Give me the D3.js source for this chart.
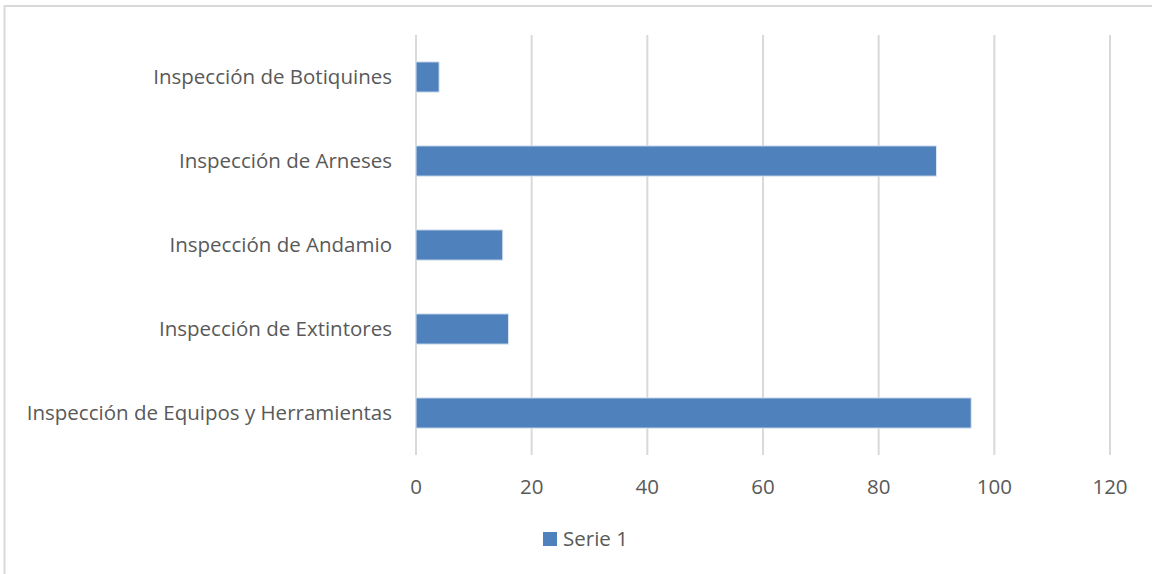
<!DOCTYPE html>
<head>
    <meta charset="utf-8" />
    <title>Inspecciones</title>
</head>
<style>
    body {
        margin: 0;
        background-color: #FFFFFF;
    }

    text {
        font-family: "Open Sans", Lato, sans-serif;
        fill: #595959;
    }

    .bar {
        fill: #4F81BD;
        stroke: #DCE6F2;
        stroke-width: 1px;
    }

    .grid line {
        stroke: #D9D9D9;
        stroke-width: 2px;
    }
</style>
<body>
    <svg id="chart" width="1152" height="574"></svg>
    <script src="https://d3js.org/d3.v7.min.js"></script>
    <script>
        // data, top to bottom as in the chart
        var categories = [
            "Inspección de Botiquines",
            "Inspección de Arneses",
            "Inspección de Andamio",
            "Inspección de Extintores",
            "Inspección de Equipos y Herramientas"
        ];
        var serie1 = [4, 90, 15, 16, 96];
        var xTicks = [0, 20, 40, 60, 80, 100, 120];
        var seriesName = "Serie 1";

        var svg = d3.select("#chart");

        // outer frame of the chart area
        svg.append("rect")
            .attr("x", 4.5)
            .attr("y", 6)
            .attr("width", 1160)
            .attr("height", 580)
            .attr("fill", "none")
            .attr("stroke", "#D9D9D9")
            .attr("stroke-width", 2);

        var margin = { top: 35, left: 416 };
        var width = 1110 - 416,
            height = 455 - 35;

        var g = svg.append("g")
            .attr("transform", "translate(" + margin.left + "," + margin.top + ")");

        var x = d3.scaleLinear().domain([0, 120]).range([0, width]);
        var y = d3.scaleBand().domain(categories).range([0, height])
            .paddingInner(0.64)
            .paddingOuter(0.32);

        // vertical gridlines
        g.append("g")
            .attr("class", "grid")
            .selectAll("line")
            .data(xTicks)
            .enter().append("line")
            .attr("x1", function(d) { return x(d); })
            .attr("x2", function(d) { return x(d); })
            .attr("y1", 0)
            .attr("y2", height);

        // x tick labels
        g.selectAll(".xlabel")
            .data(xTicks)
            .enter().append("text")
            .attr("class", "xlabel")
            .attr("x", function(d) { return x(d); })
            .attr("y", height + 39)
            .attr("text-anchor", "middle")
            .attr("font-size", "20.5px")
            .text(function(d) { return d; });

        // category labels
        g.selectAll(".ylabel")
            .data(categories)
            .enter().append("text")
            .attr("class", "ylabel")
            .attr("x", -24)
            .attr("y", function(d) { return y(d) + y.bandwidth() / 2; })
            .attr("dy", "0.35em")
            .attr("text-anchor", "end")
            .attr("font-size", "20.5px")
            .text(function(d) { return d; });

        // bars
        g.selectAll(".bar")
            .data(serie1)
            .enter().append("rect")
            .attr("class", "bar")
            .attr("x", x(0))
            .attr("y", function(d, i) { return y(categories[i]); })
            .attr("height", y.bandwidth())
            .attr("width", function(d) { return x(d) - x(0); });

        // legend
        var legend = svg.append("g").attr("transform", "translate(543,532)");
        legend.append("rect")
            .attr("width", 14)
            .attr("height", 14)
            .attr("fill", "#4F81BD");
        legend.append("text")
            .attr("x", 20)
            .attr("y", 7)
            .attr("dy", "0.35em")
            .attr("font-size", "20.5px")
            .text(seriesName);
    </script>
</body>
